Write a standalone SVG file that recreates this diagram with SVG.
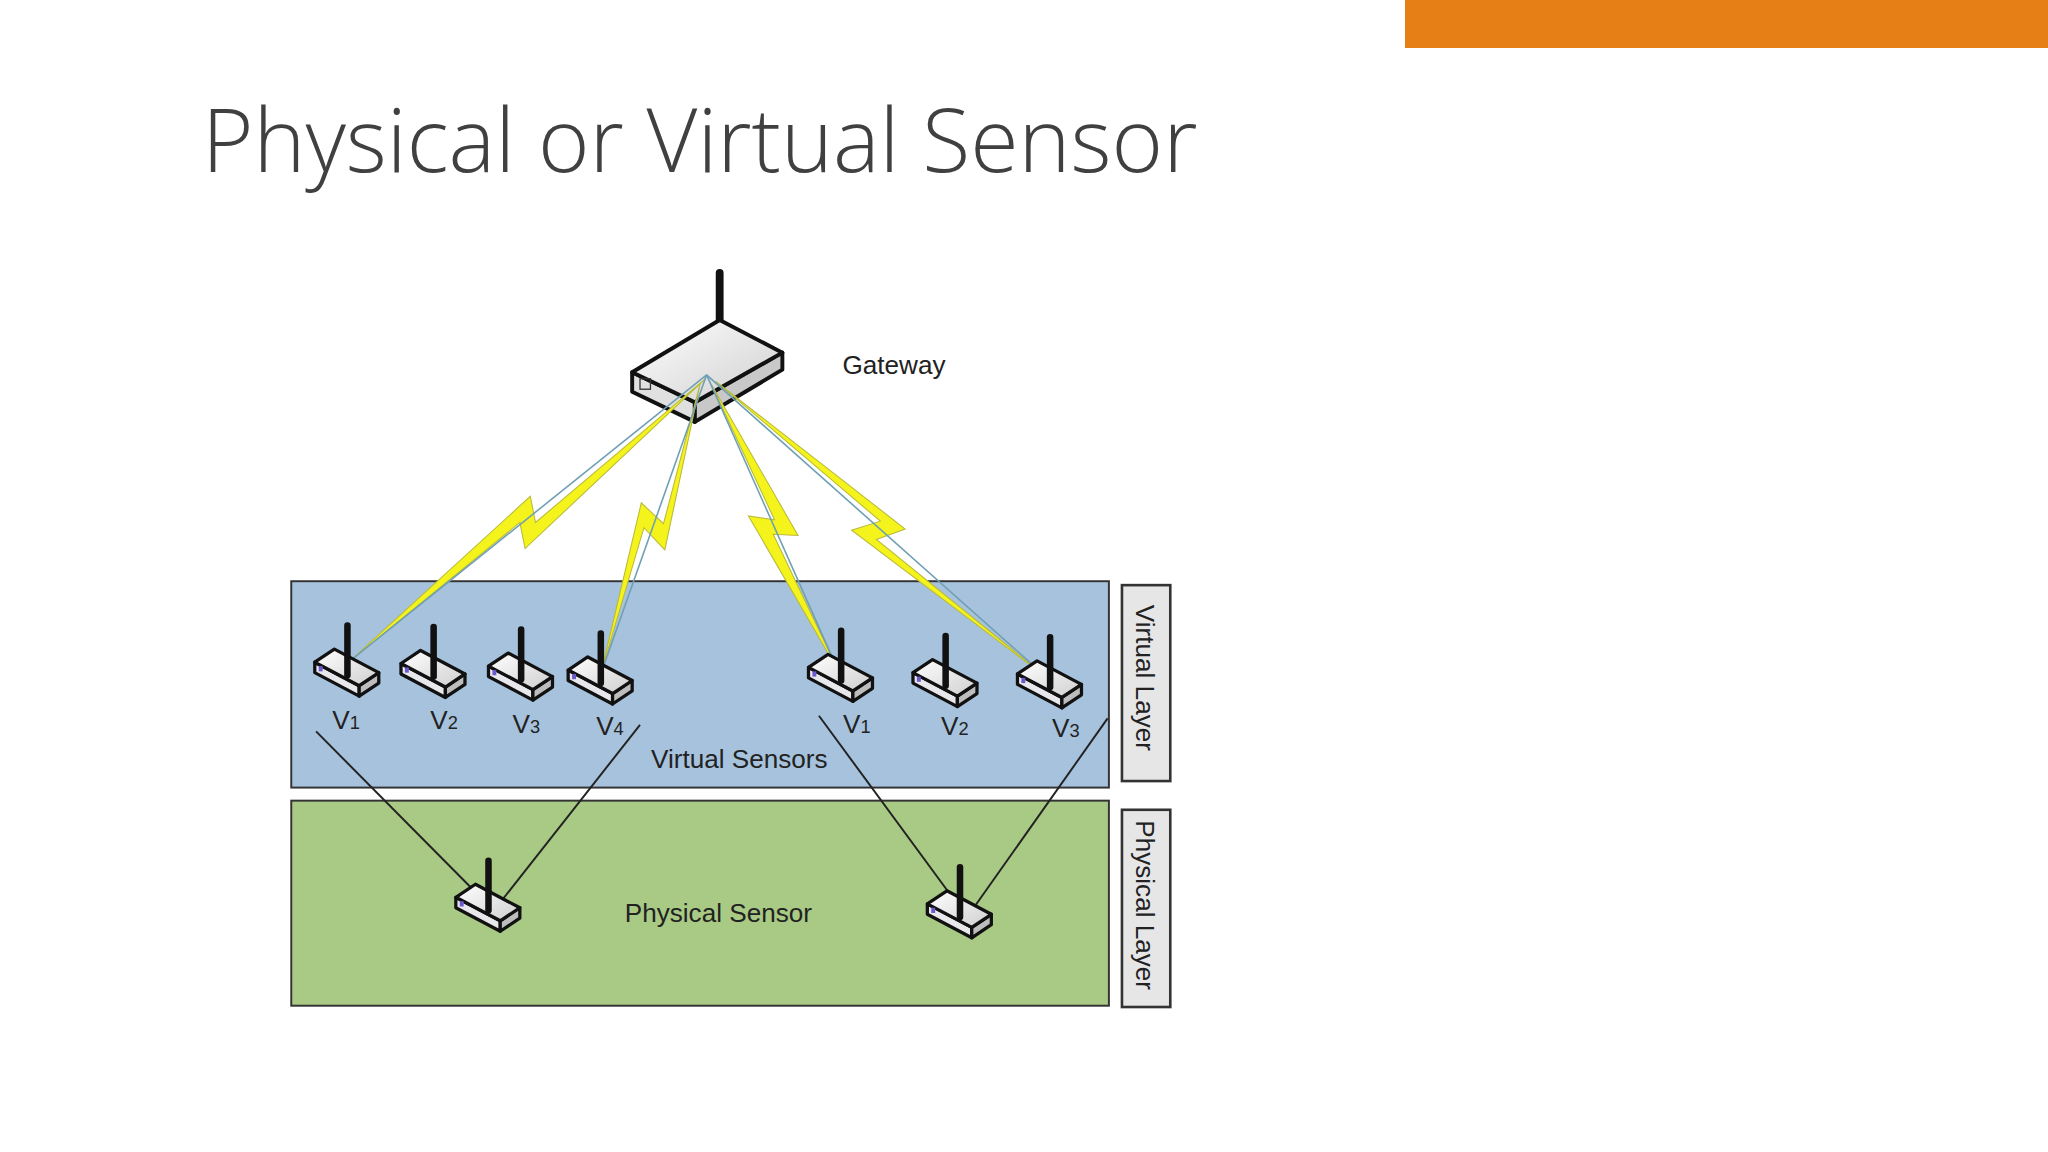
<svg xmlns="http://www.w3.org/2000/svg" width="2048" height="1152" viewBox="0 0 2048 1152">
<style>
.lbl{font-family:"Liberation Sans",Arial,sans-serif;font-size:20px;fill:#222}
.bolt{fill:#f4f41c;stroke:#b9b93a;stroke-width:0.8;stroke-linejoin:miter}
.ray{stroke:#6f9fb3;stroke-width:1.2;fill:none}
.lnk{stroke:#222;stroke-width:1.5;fill:none}
</style>
<defs>
<linearGradient id="tg" x1="0" y1="0" x2="1" y2="1"><stop offset="0" stop-color="#ffffff"/><stop offset="1" stop-color="#cfcfcf"/></linearGradient>
<g id="sensor">
<polygon points="-25,-8 9,10 9,18 -25,0" fill="#e8e8ec" stroke="#111" stroke-width="2.5" stroke-linejoin="round"/>
<polygon points="9,10 24,0 24,8 9,18" fill="#bdbdbd" stroke="#111" stroke-width="2.5" stroke-linejoin="round"/>
<polygon points="-25,-8 -10,-18 24,0 9,10" fill="url(#tg)" stroke="#111" stroke-width="2.5" stroke-linejoin="round"/>
<rect x="-22" y="-5" width="3" height="4" fill="#6a5acd"/>
<line x1="0" y1="-36" x2="0" y2="2" stroke="#111" stroke-width="5" stroke-linecap="round"/>
</g>
</defs>
<rect width="2048" height="1152" fill="#fff"/>
<rect x="1405" y="0" width="643" height="48" fill="#e67f16"/>
<text x="202" y="172" font-family="'Open Sans','Noto Sans',sans-serif" font-weight="300" font-size="88" fill="#404040">Physical or Virtual Sensor</text>
<g transform="scale(1.30612)">
<g id="virtual-layer"><rect x="223" y="445" width="626" height="158" fill="#a7c2dd" stroke="#333" stroke-width="1.5"/><text class="lbl" x="566" y="588" text-anchor="middle">Virtual Sensors</text></g>
<g id="physical-layer"><rect x="223" y="613" width="626" height="157" fill="#a9ca84" stroke="#333" stroke-width="1.5"/><text class="lbl" x="550" y="706" text-anchor="middle">Physical Sensor</text></g>
<g id="virtual-label"><rect x="859" y="448" width="37" height="150" fill="#e6e6e6" stroke="#333" stroke-width="2"/><text class="lbl" transform="translate(870,519) rotate(90)" text-anchor="middle">Virtual Layer</text></g>
<g id="physical-label"><rect x="859" y="620" width="37" height="151" fill="#e6e6e6" stroke="#333" stroke-width="2"/><text class="lbl" transform="translate(870,693) rotate(90)" text-anchor="middle">Physical Layer</text></g>
<g id="gateway">
<line x1="551" y1="209" x2="551" y2="250" stroke="#111" stroke-width="6" stroke-linecap="round"/>
<polygon points="484,285 532,308 532,323 484,300" fill="#e0e0e0" stroke="#111" stroke-width="3" stroke-linejoin="round"/>
<polygon points="532,308 599,270 599,283 532,323" fill="#c8c8c8" stroke="#111" stroke-width="3" stroke-linejoin="round"/>
<polygon points="551,245 599,270 532,308 484,285" fill="url(#tg)" stroke="#111" stroke-width="3" stroke-linejoin="round"/>
<rect x="490" y="290" width="8" height="8" fill="none" stroke="#333"/>
<text class="lbl" x="645" y="286" font-size="21">Gateway</text>
</g>
<g id="connectors">
<polygon class="bolt" points="540,290 402,420 398,400 268,506 406,380 410,400"/>
<polygon class="bolt" points="536,294 509,421 493,404 460,516 491,385 508,401"/>
<polygon class="bolt" points="545,295 611,410 592,409 642,514 573,395 593,398"/>
<polygon class="bolt" points="548,292 693,405 671,413 803,520 652,406 674,399"/>
<line class="ray" x1="541" y1="287" x2="268" y2="506"/>
<line class="ray" x1="541" y1="287" x2="460" y2="516"/>
<line class="ray" x1="541" y1="287" x2="642" y2="514"/>
<line class="ray" x1="541" y1="287" x2="803" y2="520"/>
<line class="lnk" x1="242" y1="560" x2="371" y2="690"/>
<line class="lnk" x1="490" y1="555" x2="379" y2="696"/>
<line class="lnk" x1="627" y1="548" x2="735" y2="695"/>
<line class="lnk" x1="848" y1="550" x2="742" y2="700"/>
</g>
<g id="v1a"><use href="#sensor" x="266" y="515"/><text class="lbl" x="265" y="558" text-anchor="middle">V<tspan font-size="14">1</tspan></text></g>
<g id="v2a"><use href="#sensor" x="332" y="516"/><text class="lbl" x="340" y="558" text-anchor="middle">V<tspan font-size="14">2</tspan></text></g>
<g id="v3a"><use href="#sensor" x="399" y="518"/><text class="lbl" x="403" y="561" text-anchor="middle">V<tspan font-size="14">3</tspan></text></g>
<g id="v4a"><use href="#sensor" x="460" y="521"/><text class="lbl" x="467" y="563" text-anchor="middle">V<tspan font-size="14">4</tspan></text></g>
<g id="v1b"><use href="#sensor" x="644" y="519"/><text class="lbl" x="656" y="561" text-anchor="middle">V<tspan font-size="14">1</tspan></text></g>
<g id="v2b"><use href="#sensor" x="724" y="523"/><text class="lbl" x="731" y="563" text-anchor="middle">V<tspan font-size="14">2</tspan></text></g>
<g id="v3b"><use href="#sensor" x="804" y="524"/><text class="lbl" x="816" y="564" text-anchor="middle">V<tspan font-size="14">3</tspan></text></g>
<g id="p1"><use href="#sensor" x="374" y="695"/></g>
<g id="p2"><use href="#sensor" x="735" y="700"/></g>
</g>
</svg>
